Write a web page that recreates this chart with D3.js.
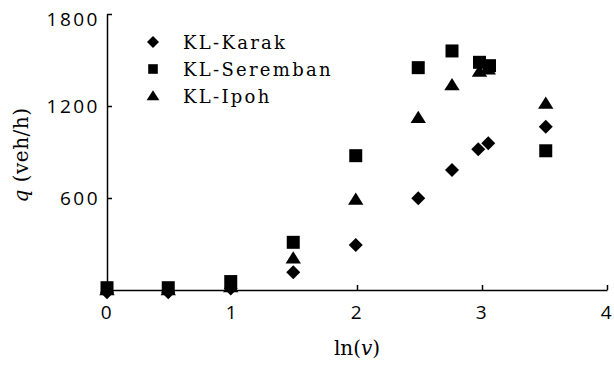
<!DOCTYPE html>
<html>
<head>
<meta charset="utf-8">
<script src="https://cdn.jsdelivr.net/npm/d3@7"></script>
<style>
  body { margin: 0; background: #fff; }
  svg { display: block; }
  .tick text { font-family: "Open Sans", sans-serif; font-size: 19px; letter-spacing: 2.5px; fill: #000; }
  .domain, .tick line { stroke: #000; stroke-width: 1.5px; }
</style>
</head>
<body>
<script>

// series names
var seriesNames = ["KL-Karak", "KL-Seremban", "KL-Ipoh"];

// ln(v) values
var xKarak    = [0.0, 0.49, 0.99, 1.49, 1.99, 2.49, 2.76, 2.97, 3.05, 3.51];
var xSeremban = [0.0, 0.49, 0.99, 1.49, 1.99, 2.49, 2.76, 2.98, 3.06, 3.51];
var xIpoh     = [0.0, 0.49, 0.99, 1.49, 1.99, 2.49, 2.76, 2.98, 3.05, 3.51];

// q (veh/h)
var qKarak    = [-15, -15, 10, 115, 293, 598, 783, 918, 957, 1065];
var qSeremban = [15, 15, 55, 311, 876, 1450, 1559, 1485, 1463, 908];
var qIpoh     = [0, 0, 20, 207, 591, 1124, 1337, 1425, 1440, 1217];

// ticks
var xTicks = [0, 1, 2, 3, 4];
var yTicks = [600, 1200, 1800];

var margin = {top: 14, right: 7, bottom: 75, left: 107},
    w = 614 - margin.left - margin.right,
    h = 365 - margin.top - margin.bottom;

var svg = d3.select("body").append("svg")
    .attr("width", 614)
    .attr("height", 365);

var g = svg.append("g")
    .attr("transform", "translate(" + margin.left + "," + margin.top + ")");

var xscale = d3.scaleLinear().domain([0, 4]).range([0, w]);
var yscale = d3.scaleLinear().domain([0, 1800]).range([h, 0]);

// axes, ticks point inward
g.append("g")
    .attr("transform", "translate(0," + h + ")")
    .call(d3.axisBottom(xscale).tickValues(xTicks).tickSizeInner(-5).tickSizeOuter(0).tickPadding(16).tickFormat(d3.format("d")));

var yAxis = g.append("g")
    .call(d3.axisLeft(yscale).tickValues(yTicks).tickSizeInner(-5).tickSizeOuter(0).tickPadding(7).tickFormat(d3.format("d")));

// top label sits a little lower in the original
yAxis.selectAll(".tick text").filter(function(d) { return d === 1800; }).attr("dy", "0.62em");

// marker shapes
function diamond(s) {
    return "M0," + (-s) + "L" + s + ",0L0," + s + "L" + (-s) + ",0Z";
}
function square(s) {
    return "M" + (-s) + "," + (-s) + "H" + s + "V" + s + "H" + (-s) + "Z";
}
function triangle(s) {
    return "M0," + (-s) + "L" + (s * 1.1) + "," + (s * 0.75) + "L" + (-s * 1.1) + "," + (s * 0.75) + "Z";
}

var series = [
    {xs: xIpoh, qs: qIpoh, shape: function() { return triangle(7); }},
    {xs: xKarak, qs: qKarak, shape: function() { return diamond(7); }},
    {xs: xSeremban, qs: qSeremban, shape: function() { return square(6.5); }}
];

series.forEach(function(s) {
    var pts = s.xs.map(function(x, i) { return [x, s.qs[i]]; });
    g.append("g").selectAll("path")
        .data(pts).enter().append("path")
        .attr("d", s.shape)
        .attr("transform", function(d) { return "translate(" + xscale(d[0]) + "," + yscale(d[1]) + ")"; })
        .attr("fill", "#000");
});

// legend
var legendShapes = [function() { return diamond(6); }, function() { return square(4.8); }, function() { return triangle(5.8); }];
var legend = svg.append("g");
seriesNames.forEach(function(name, i) {
    var y = 42 + i * 27;
    legend.append("path")
        .attr("d", legendShapes[i])
        .attr("transform", "translate(153," + y + ")")
        .attr("fill", "#000");
    legend.append("text")
        .attr("x", 183)
        .attr("y", y + 7)
        .attr("font-family", "DejaVu Serif, serif")
        .attr("font-size", "18px")
        .attr("letter-spacing", "2.3px")
        .attr("fill", "#000")
        .text(name);
});

// axis titles
var xt = svg.append("text")
    .attr("x", margin.left + xscale(2))
    .attr("y", 355)
    .attr("text-anchor", "middle")
    .attr("font-family", "DejaVu Serif, serif")
    .attr("font-size", "20px");
xt.append("tspan").text("ln(");
xt.append("tspan").attr("font-style", "italic").text("v");
xt.append("tspan").text(")");

var yt = svg.append("text")
    .attr("transform", "translate(28," + 155 + ") rotate(-90)")
    .attr("text-anchor", "middle")
    .attr("font-family", "DejaVu Serif, serif")
    .attr("font-size", "20px")
    .attr("letter-spacing", "0.5px");
yt.append("tspan").attr("font-style", "italic").text("q");
yt.append("tspan").text(" (veh/h)");

</script>
</body>
</html>
